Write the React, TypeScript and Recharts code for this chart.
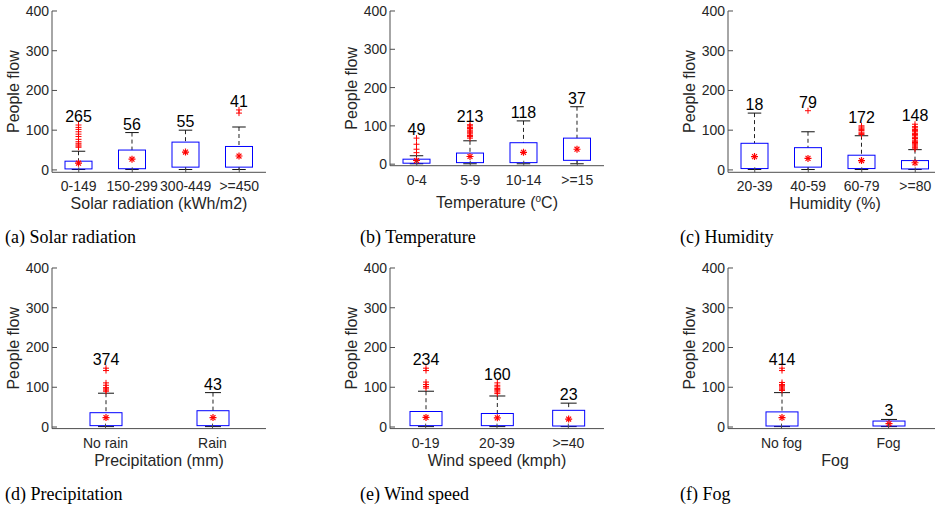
import { Bar, ComposedChart, XAxis, YAxis } from "recharts";

// (a) Solar radiation
const solarCats = ["0-149", "150-299", "300-449", ">=450"];
const solarCount = [265, 56, 55, 41];
const solarLow = [1, 1, 1, 1];
const solarQ1 = [2.5, 3, 7, 7];
const solarMean = [17, 27, 45, 35];
const solarQ3 = [22, 50, 70, 59];
const solarHigh = [47, 94, 100, 108];
const solarOut = [[57, 60, 63, 67, 71, 77, 84, 90, 96, 102, 107, 113], [], [], [143, 151]];

// (b) Temperature
const tempCats = ["0-4", "5-9", "10-14", ">=15"];
const tempCount = [49, 213, 118, 37];
const tempLow = [1, 1, 1, 1];
const tempQ1 = [2.5, 4, 4, 10];
const tempMean = [9.5, 20, 31, 39];
const tempQ3 = [13, 29, 56, 68];
const tempHigh = [22, 61, 113, 150];
const tempOut = [[30, 39, 52, 68], [68, 72, 75, 79, 82, 86, 89, 93, 96, 100, 103], [], []];

// (c) Humidity
const humCats = ["20-39", "40-59", "60-79", ">=80"];
const humCount = [18, 79, 172, 148];
const humLow = [1, 1, 1, 1];
const humQ1 = [3.4, 7, 3.4, 2.5];
const humMean = [33.5, 29, 23.5, 18];
const humQ3 = [67, 56, 37, 23.5];
const humHigh = [143, 96, 86, 51];
const humOut = [
  [],
  [149],
  [89, 92, 95, 99, 102, 105, 108, 111],
  [53, 57, 60, 63, 66, 69, 72, 75, 79, 82, 86, 89, 92, 96, 99, 102, 106, 109, 115],
];

// (d) Precipitation
const rainCats = ["No rain", "Rain"];
const rainCount = [374, 43];
const rainLow = [1, 1];
const rainQ1 = [3.4, 3.4];
const rainMean = [23.6, 23.6];
const rainQ3 = [36, 41];
const rainHigh = [85, 86.5];
const rainOut = [[90, 93, 96, 99, 105, 111, 142, 148], []];

// (e) Wind speed
const windCats = ["0-19", "20-39", ">=40"];
const windCount = [234, 160, 23];
const windLow = [1, 1, 1];
const windQ1 = [3.4, 3.4, 2.5];
const windMean = [24, 23, 20];
const windQ3 = [39, 34, 42];
const windHigh = [90, 78, 60];
const windOut = [[98, 102, 107, 113, 142, 148], [84, 88, 91, 94, 97, 101, 105, 111], []];

// (f) Fog
const fogCats = ["No fog", "Fog"];
const fogCount = [414, 3];
const fogLow = [1, 1];
const fogQ1 = [2.5, 2.5];
const fogMean = [23.6, 8.5];
const fogQ3 = [38, 15];
const fogHigh = [86.5, 19];
const fogOut = [[92, 95, 98, 101, 104, 107, 112, 142, 148], []];

const yTicks = [0, 100, 200, 300, 400];

const SANS = "'Liberation Sans', Arial, Helvetica, sans-serif";
const SERIF = "'Liberation Serif', 'Times New Roman', serif";
const AXIS = "#4d4d4d";
const TICK_TEXT = "#262626";

const PLOT_W = 214;
const ML = 77; // y axis area
const MT = 10;
const MR = 15;
const XH = 50;

type Row = {
  name: string;
  n: number;
  lo: number;
  q1: number;
  mean: number;
  q3: number;
  hi: number;
  out: number[];
  range: [number, number];
};

function build(
  cats: string[],
  n: number[],
  lo: number[],
  q1: number[],
  mean: number[],
  q3: number[],
  hi: number[],
  out: number[][]
): Row[] {
  return cats.map((name, i) => ({
    name,
    n: n[i],
    lo: lo[i],
    q1: q1[i],
    mean: mean[i],
    q3: q3[i],
    hi: hi[i],
    out: out[i],
    range: [lo[i], hi[i]],
  }));
}

// draws the whole box from the range bar's pixel box (lo..hi)
const BoxShape = (props: any) => {
  const { x, y, width, height, payload } = props;
  if (payload == null || typeof y !== "number") return null;
  const d: Row = payload;
  const top = Math.min(y, y + height);
  const bot = Math.max(y, y + height);
  const k = (bot - top) / (d.hi - d.lo);
  const py = (v: number) => top + (d.hi - v) * k;
  const cx = x + width / 2;
  const cap = width / 4;
  const top_ = Math.max(d.hi, ...d.out);
  const my = py(d.mean);
  const s = 3.5;
  const s2 = s * 0.7;
  return (
    <g>
      <line x1={cx} x2={cx} y1={py(d.hi)} y2={py(d.q3)} stroke="#222" strokeDasharray="4 3" />
      <line x1={cx} x2={cx} y1={py(d.q1)} y2={py(d.lo)} stroke="#222" strokeDasharray="4 3" />
      <line x1={cx - cap} x2={cx + cap} y1={py(d.hi)} y2={py(d.hi)} stroke="#111" />
      <line x1={cx - cap} x2={cx + cap} y1={py(d.lo)} y2={py(d.lo)} stroke="#111" />
      <rect
        x={x}
        y={py(d.q3)}
        width={width}
        height={py(d.q1) - py(d.q3)}
        fill="none"
        stroke="#0000ff"
        strokeWidth={1}
      />
      {d.out.map((v, i) => (
        <g key={i} stroke="#ff0000" strokeWidth={1}>
          <line x1={cx - 3} x2={cx + 3} y1={py(v)} y2={py(v)} />
          <line x1={cx} x2={cx} y1={py(v) - 3} y2={py(v) + 3} />
        </g>
      ))}
      <g stroke="#ff0000" strokeWidth={1.2}>
        <line x1={cx - s} x2={cx + s} y1={my} y2={my} />
        <line x1={cx} x2={cx} y1={my - s} y2={my + s} />
        <line x1={cx - s2} x2={cx + s2} y1={my - s2} y2={my + s2} />
        <line x1={cx - s2} x2={cx + s2} y1={my + s2} y2={my - s2} />
      </g>
      <text
        x={cx}
        y={py(top_) - 3}
        textAnchor="middle"
        fontSize={16}
        fontFamily={SANS}
        fill="#000"
      >
        {d.n}
      </text>
    </g>
  );
};

interface PanelProps {
  rows: Row[];
  xLabel: React.ReactNode;
  caption: string;
  plotX: number;
  plotY: number;
  plotH: number;
  yMin: number;
  barSize: number;
  xLabelDy: number;
  capX: number;
  capY: number;
}

function BoxPanel({ rows, xLabel, caption, plotX, plotY, plotH, yMin, barSize, xLabelDy, capX, capY }: PanelProps) {
  const width = ML + PLOT_W + MR;
  const height = MT + plotH + XH;

  const yTitle = (p: any) => {
    const vb = p && p.viewBox ? p.viewBox : { x: 0, y: MT, width: ML, height: plotH };
    const cx = vb.x + vb.width - 38.5;
    const cy = vb.y + vb.height / 2;
    return (
      <text
        x={cx}
        y={cy}
        transform={`rotate(-90 ${cx} ${cy})`}
        textAnchor="middle"
        dominantBaseline="central"
        fontSize={16}
        fontFamily={SANS}
        fill={TICK_TEXT}
      >
        People flow
      </text>
    );
  };

  const xTitle = (p: any) => {
    const vb = p && p.viewBox ? p.viewBox : { x: ML, y: MT + plotH, width: PLOT_W, height: XH };
    return (
      <text
        x={vb.x + vb.width / 2}
        y={vb.y + xLabelDy}
        textAnchor="middle"
        fontSize={16}
        fontFamily={SANS}
        fill={TICK_TEXT}
      >
        {xLabel}
      </text>
    );
  };

  return (
    <>
      <div style={{ position: "absolute", left: plotX - ML, top: plotY - MT }}>
        <ComposedChart
          width={width}
          height={height}
          data={rows}
          margin={{ top: MT, right: MR, left: 0, bottom: 0 }}
        >
          <XAxis
            dataKey="name"
            interval={0}
            height={XH}
            tickSize={-5}
            tickMargin={14}
            axisLine={{ stroke: AXIS }}
            tickLine={{ stroke: AXIS }}
            tick={{ fill: TICK_TEXT, fontSize: 14, fontFamily: SANS }}
            label={xTitle}
          />
          <XAxis
            xAxisId="top"
            orientation="top"
            dataKey="name"
            interval={0}
            height={0}
            tickSize={-5}
            axisLine={{ stroke: AXIS }}
            tickLine={{ stroke: AXIS }}
            tick={false}
          />
          <YAxis
            type="number"
            domain={[yMin, 400]}
            ticks={yTicks}
            allowDataOverflow
            width={ML}
            tickSize={-5}
            tickMargin={8}
            axisLine={{ stroke: AXIS }}
            tickLine={{ stroke: AXIS }}
            tick={{ fill: TICK_TEXT, fontSize: 14, fontFamily: SANS }}
            label={yTitle}
          />
          <YAxis
            yAxisId="r"
            orientation="right"
            type="number"
            domain={[yMin, 400]}
            ticks={yTicks}
            allowDataOverflow
            width={0}
            tickSize={-5}
            axisLine={{ stroke: AXIS }}
            tickLine={{ stroke: AXIS }}
            tick={false}
          />
          <Bar dataKey="range" barSize={barSize} shape={BoxShape} isAnimationActive={false} />
        </ComposedChart>
      </div>
      <div
        style={{
          position: "absolute",
          left: capX,
          top: capY,
          fontFamily: SERIF,
          fontSize: 18,
          lineHeight: "18px",
          color: "#000",
          whiteSpace: "nowrap",
        }}
      >
        {caption}
      </div>
    </>
  );
}

const panels: PanelProps[] = [
  {
    rows: build(solarCats, solarCount, solarLow, solarQ1, solarMean, solarQ3, solarHigh, solarOut),
    xLabel: "Solar radiation (kWh/m2)",
    caption: "(a) Solar radiation",
    plotX: 52, plotY: 11, plotH: 161.3, yMin: -6, barSize: 27, xLabelDy: 37, capX: 5, capY: 228,
  },
  {
    rows: build(tempCats, tempCount, tempLow, tempQ1, tempMean, tempQ3, tempHigh, tempOut),
    xLabel: (
      <>
        Temperature (
        <tspan dy={-6} fontSize={10}>
          o
        </tspan>
        <tspan dy={6}>C)</tspan>
      </>
    ),
    caption: "(b) Temperature",
    plotX: 390, plotY: 11, plotH: 154.7, yMin: -4, barSize: 27, xLabelDy: 42, capX: 360, capY: 228,
  },
  {
    rows: build(humCats, humCount, humLow, humQ1, humMean, humQ3, humHigh, humOut),
    xLabel: "Humidity (%)",
    caption: "(c) Humidity",
    plotX: 728, plotY: 11, plotH: 161.3, yMin: -6, barSize: 27, xLabelDy: 37, capX: 680, capY: 228,
  },
  {
    rows: build(rainCats, rainCount, rainLow, rainQ1, rainMean, rainQ3, rainHigh, rainOut),
    xLabel: "Precipitation (mm)",
    caption: "(d) Precipitation",
    plotX: 52, plotY: 267.7, plotH: 160.6, yMin: -4, barSize: 32, xLabelDy: 37, capX: 5, capY: 485,
  },
  {
    rows: build(windCats, windCount, windLow, windQ1, windMean, windQ3, windHigh, windOut),
    xLabel: "Wind speed (kmph)",
    caption: "(e) Wind speed",
    plotX: 390, plotY: 267.7, plotH: 160.6, yMin: -4, barSize: 32, xLabelDy: 37, capX: 360, capY: 485,
  },
  {
    rows: build(fogCats, fogCount, fogLow, fogQ1, fogMean, fogQ3, fogHigh, fogOut),
    xLabel: "Fog",
    caption: "(f) Fog",
    plotX: 728, plotY: 267.7, plotH: 160.6, yMin: -4, barSize: 32, xLabelDy: 37, capX: 680, capY: 485,
  },
];

export default function App() {
  return (
    <div
      style={{
        position: "fixed",
        left: 0,
        top: 0,
        width: 935,
        height: 507,
        overflow: "hidden",
        background: "#fff",
      }}
    >
      {panels.map((p) => (
        <BoxPanel key={p.caption} {...p} />
      ))}
    </div>
  );
}
